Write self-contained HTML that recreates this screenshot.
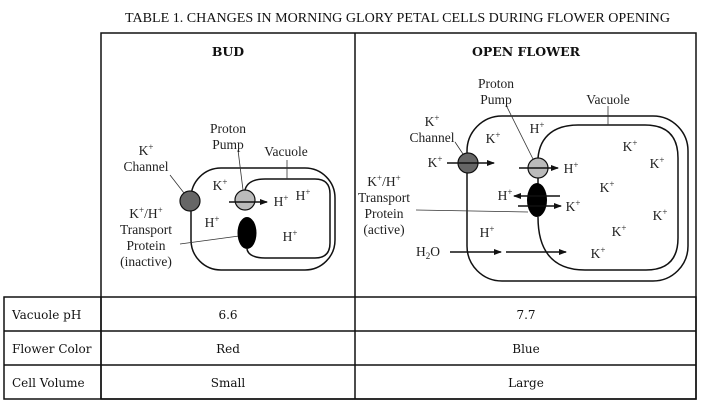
<!DOCTYPE html>
<html><head><meta charset="utf-8"><style>
html,body{margin:0;padding:0;background:#fff;}
svg{display:block;}
.s{font-family:"Liberation Serif",serif;font-size:13.5px;fill:#222;text-anchor:middle;}
.h{font-family:"DejaVu Serif",serif;font-size:12px;fill:#111;text-anchor:middle;}
.b{font-family:"DejaVu Serif",serif;font-size:12.5px;font-weight:bold;fill:#111;text-anchor:middle;}
.ti{font-family:"Liberation Serif",serif;font-size:14px;fill:#111;}
</style></head><body>
<svg width="701" height="404" viewBox="0 0 701 404" xmlns="http://www.w3.org/2000/svg">
<defs><marker id="a" markerWidth="8" markerHeight="6" refX="7" refY="3" orient="auto" markerUnits="userSpaceOnUse"><path d="M0,0 L8,3 L0,6 z" fill="#111"/></marker></defs>
<text class="ti" x="125" y="22" textLength="545" lengthAdjust="spacingAndGlyphs">TABLE 1. CHANGES IN MORNING GLORY PETAL CELLS DURING FLOWER OPENING</text>
<g stroke="#111" stroke-width="1.5" fill="none">
<rect x="101" y="33" width="595" height="366"/>
<line x1="355" y1="33" x2="355" y2="399"/>
<rect x="4" y="297" width="692" height="102"/>
<line x1="4" y1="331" x2="696" y2="331"/>
<line x1="4" y1="365" x2="696" y2="365"/>
<line x1="101" y1="297" x2="101" y2="399"/>
</g>
<text class="b" x="228" y="56">BUD</text>
<text class="b" x="526" y="56">OPEN FLOWER</text>
<g class="h">
<text x="12" y="319" style="text-anchor:start">Vacuole pH</text>
<text x="12" y="353" style="text-anchor:start">Flower Color</text>
<text x="12" y="387" style="text-anchor:start">Cell Volume</text>
<text x="228" y="319">6.6</text><text x="228" y="353">Red</text><text x="228" y="387">Small</text>
<text x="526" y="319">7.7</text><text x="526" y="353">Blue</text><text x="526" y="387">Large</text>
</g>

<!-- BUD -->
<g stroke="#111" stroke-width="1.5" fill="none">
<rect x="191" y="168" width="144" height="102" rx="30"/>
<path d="M245,190 C247,182 255,179 265,179 L315,179 Q330,179 330,194 L330,243 Q330,258 315,258 L265,258 C255,258 248,255 247,249"/>
</g>
<g stroke="#333" stroke-width="0.8">
<line x1="170" y1="175" x2="184" y2="193"/>
<line x1="238" y1="150" x2="243" y2="190"/>
<line x1="287" y1="160" x2="287" y2="179"/>
<line x1="180" y1="244" x2="239" y2="236"/>
</g>
<circle cx="190" cy="201" r="10" fill="#666" stroke="#111" stroke-width="1.2"/>
<circle cx="245" cy="200" r="10" fill="#bbb" stroke="#111" stroke-width="1.2"/>
<ellipse cx="247" cy="233" rx="9.5" ry="16" fill="#000"/>
<line x1="229" y1="202" x2="267" y2="202" stroke="#111" stroke-width="1.5" marker-end="url(#a)"/>
<text class="s" x="228" y="133">Proton</text><text class="s" x="228" y="149">Pump</text>
<text class="s" x="286" y="156">Vacuole</text>
<text class="s" x="146" y="155">K<tspan dy="-5" font-size="9">+</tspan></text><text class="s" x="146" y="171">Channel</text>
<text class="s" x="220" y="190">K<tspan dy="-5" font-size="9">+</tspan></text>
<text class="s" x="212" y="227">H<tspan dy="-5" font-size="9">+</tspan></text>
<text class="s" x="281" y="206">H<tspan dy="-5" font-size="9">+</tspan></text>
<text class="s" x="303" y="200">H<tspan dy="-5" font-size="9">+</tspan></text>
<text class="s" x="290" y="241">H<tspan dy="-5" font-size="9">+</tspan></text>
<text class="s" x="146" y="218">K<tspan dy="-5" font-size="9">+</tspan><tspan dy="5">/H</tspan><tspan dy="-5" font-size="9">+</tspan></text>
<text class="s" x="146" y="234">Transport</text><text class="s" x="146" y="250">Protein</text><text class="s" x="146" y="266">(inactive)</text>

<!-- OPEN -->
<g stroke="#111" stroke-width="1.5" fill="none">
<rect x="467" y="116" width="221" height="165" rx="35"/>
<path d="M538,158 C540,135 556,125 578,125 L645,125 Q678,125 678,158 L678,238 Q678,270 646,270 L585,270 C552,270 538,250 538,217"/>
<line x1="538" y1="178" x2="538" y2="184"/>
</g>
<g stroke="#333" stroke-width="0.8">
<line x1="455" y1="142" x2="463" y2="154"/>
<line x1="506" y1="105" x2="533" y2="159"/>
<line x1="608" y1="106" x2="608" y2="125"/>
<line x1="416" y1="210" x2="528" y2="212"/>
</g>
<circle cx="468" cy="163" r="10" fill="#666" stroke="#111" stroke-width="1.2"/>
<circle cx="538" cy="168" r="10" fill="#bbb" stroke="#111" stroke-width="1.2"/>
<ellipse cx="537" cy="200" rx="10" ry="17" fill="#000"/>
<g stroke="#111" stroke-width="1.5">
<line x1="447" y1="163" x2="494" y2="163" marker-end="url(#a)"/>
<line x1="519" y1="168" x2="558" y2="168" marker-end="url(#a)"/>
<line x1="560" y1="196" x2="514" y2="196" marker-end="url(#a)"/>
<line x1="518" y1="206" x2="561" y2="206" marker-end="url(#a)"/>
<line x1="450" y1="252" x2="501" y2="252" marker-end="url(#a)"/>
<line x1="506" y1="252" x2="566" y2="252" marker-end="url(#a)"/>
</g>
<text class="s" x="496" y="88">Proton</text><text class="s" x="496" y="104">Pump</text>
<text class="s" x="608" y="104">Vacuole</text>
<text class="s" x="432" y="126">K<tspan dy="-5" font-size="9">+</tspan></text><text class="s" x="432" y="142">Channel</text>
<text class="s" x="435" y="167">K<tspan dy="-5" font-size="9">+</tspan></text>
<text class="s" x="493" y="143">K<tspan dy="-5" font-size="9">+</tspan></text>
<text class="s" x="537" y="133">H<tspan dy="-5" font-size="9">+</tspan></text>
<text class="s" x="571" y="173">H<tspan dy="-5" font-size="9">+</tspan></text>
<text class="s" x="505" y="200">H<tspan dy="-5" font-size="9">+</tspan></text>
<text class="s" x="573" y="211">K<tspan dy="-5" font-size="9">+</tspan></text>
<text class="s" x="487" y="237">H<tspan dy="-5" font-size="9">+</tspan></text>
<text class="s" x="428" y="256">H<tspan dy="3" font-size="9">2</tspan><tspan dy="-3">O</tspan></text>
<text class="s" x="630" y="151">K<tspan dy="-5" font-size="9">+</tspan></text>
<text class="s" x="657" y="168">K<tspan dy="-5" font-size="9">+</tspan></text>
<text class="s" x="607" y="192">K<tspan dy="-5" font-size="9">+</tspan></text>
<text class="s" x="660" y="220">K<tspan dy="-5" font-size="9">+</tspan></text>
<text class="s" x="619" y="236">K<tspan dy="-5" font-size="9">+</tspan></text>
<text class="s" x="598" y="258">K<tspan dy="-5" font-size="9">+</tspan></text>
<text class="s" x="384" y="186">K<tspan dy="-5" font-size="9">+</tspan><tspan dy="5">/H</tspan><tspan dy="-5" font-size="9">+</tspan></text>
<text class="s" x="384" y="202">Transport</text><text class="s" x="384" y="218">Protein</text><text class="s" x="384" y="234">(active)</text>
</svg>
</body></html>
